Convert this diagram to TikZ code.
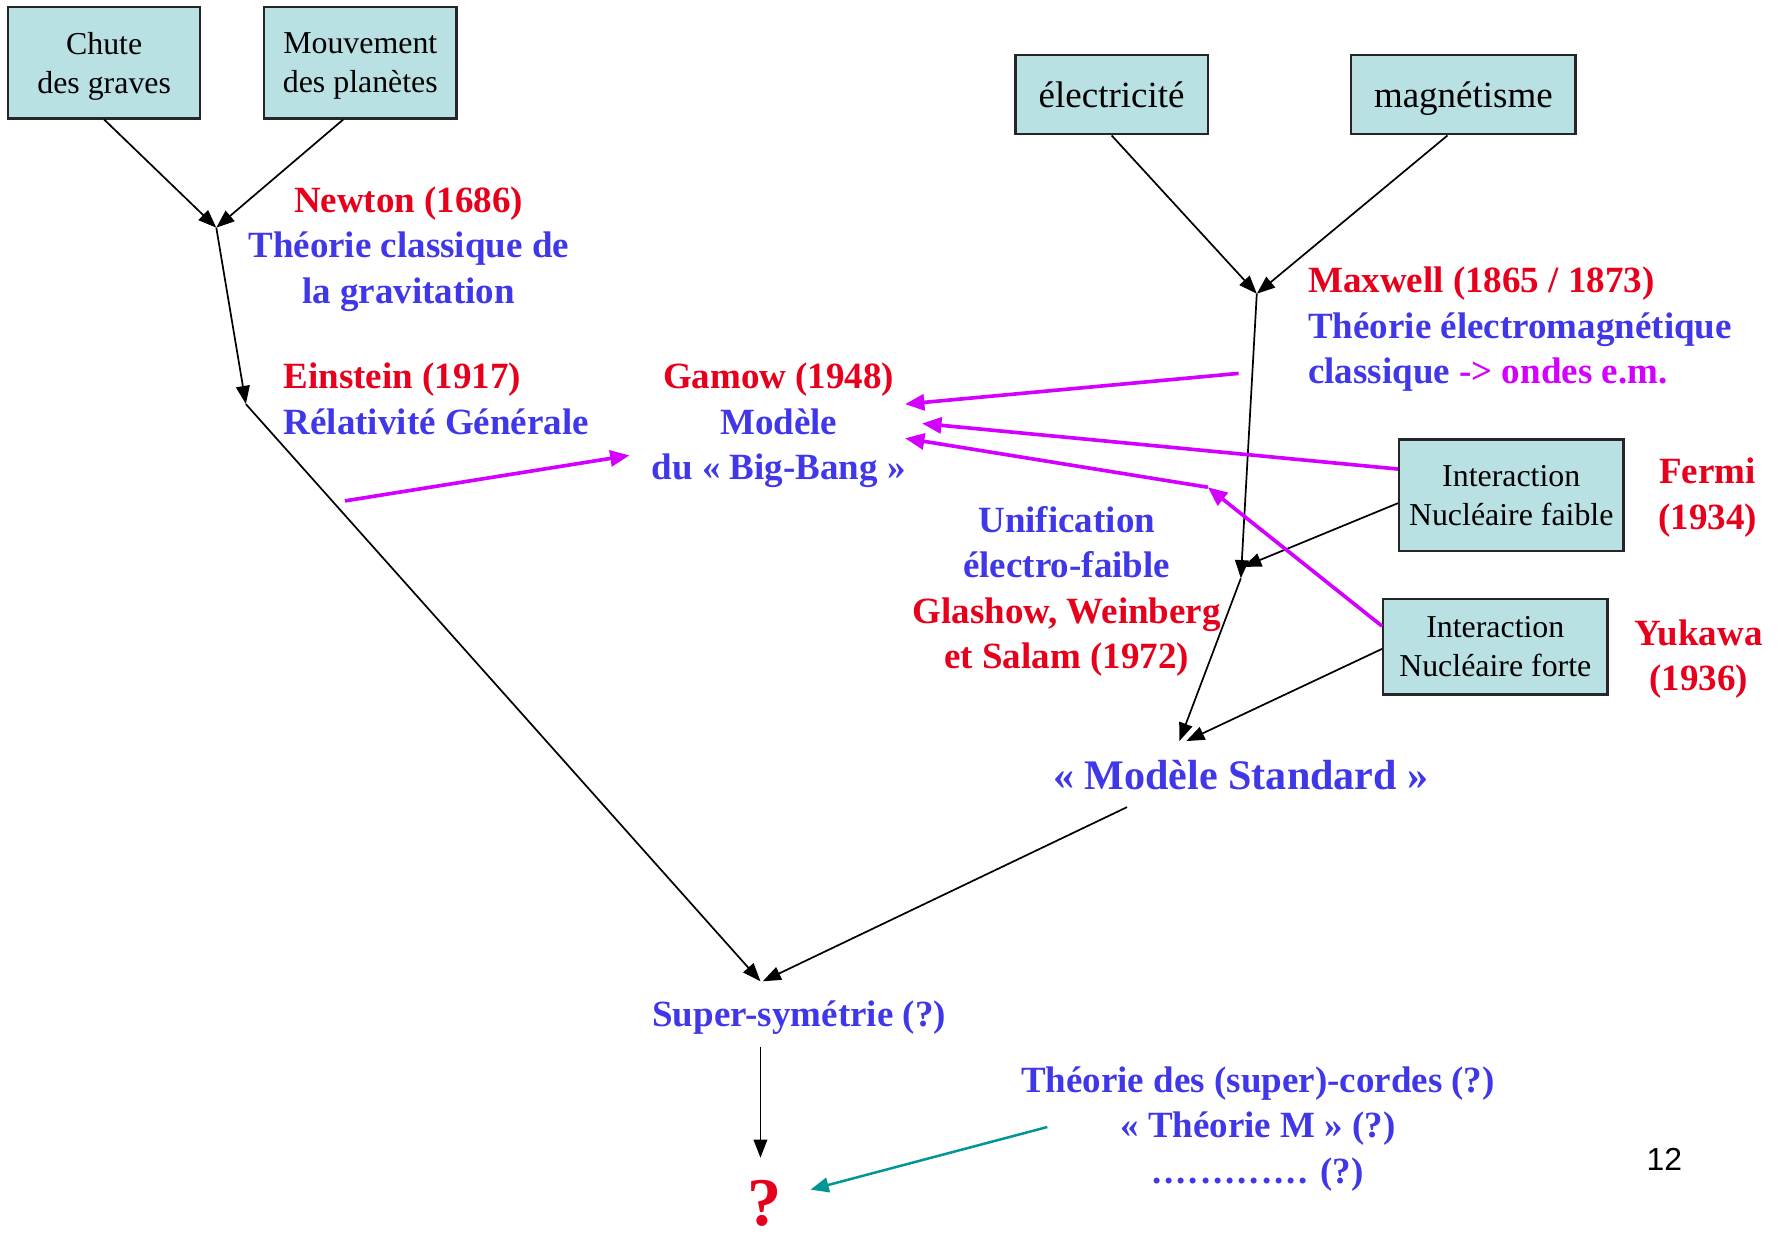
\documentclass[tikz,border=0pt]{standalone}
\usepackage{fontspec}
\setmainfont{Liberation Serif}
\newfontfamily\sansf{Liberation Sans}
\usetikzlibrary{arrows.meta}
\definecolor{boxfill}{RGB}{185,224,226}
\definecolor{tred}{RGB}{230,0,28}
\definecolor{tblue}{RGB}{64,56,232}
\definecolor{tmag}{RGB}{212,0,255}
\definecolor{tteal}{RGB}{0,150,150}
\newcommand\mydotrow{.\kern2.6pt.\kern2.6pt.\kern2.6pt.\kern2.6pt.\kern2.6pt.\kern2.6pt.\kern2.6pt.\kern2.6pt.\kern2.6pt.\kern2.6pt.\kern2.6pt.\kern2.6pt.}
\begin{document}
\begin{tikzpicture}[x=1pt,y=-1pt,
  box/.style={draw=black!85, line width=2pt, fill=boxfill, inner sep=0pt, align=center,
              text depth=0pt, font=\fontsize{28}{34}\selectfont},
  bigbox/.style={box, font=\fontsize{32.5}{40}\selectfont},
  lbl/.style={align=center, font=\bfseries\fontsize{32.5}{40}\selectfont, inner sep=0pt,
              text depth=0pt, text=tblue},
  blk/.style={draw=black, line width=1.5pt, -{Triangle[length=16pt,width=12pt]}},
  mag/.style={draw=tmag, line width=3.2pt, -{Triangle[length=17pt,width=14pt]}},
  teal/.style={draw=tteal, line width=2.2pt, -{Triangle[length=16pt,width=13pt]}}]
\useasboundingbox (0,0) rectangle (1568,1085);

% boxes
\node[box, minimum width=169pt, minimum height=98pt] (chute) at (91.5,55) {Chute\\des graves};
\node[box, minimum width=169pt, minimum height=98pt] (mouv) at (316.5,55) {Mouvement\\des planètes};
\node[bigbox, minimum width=169pt, minimum height=70pt] (elec) at (976.5,83) {électricité};
\node[bigbox, minimum width=197pt, minimum height=70pt] (magn) at (1285.5,83) {magnétisme};
\node[box, minimum width=197pt, minimum height=98pt] (faible) at (1327.5,435) {Interaction\\Nucléaire faible};
\node[box, minimum width=197pt, minimum height=84pt] (forte) at (1313.5,568) {Interaction\\Nucléaire forte};

% labels
\node[lbl] (newton) at (359,215) {\textcolor{tred}{Newton (1686)}\\Théorie classique de\\la gravitation};
\node[lbl, align=left, anchor=west] (einstein) at (249,350) {\textcolor{tred}{Einstein (1917)}\\Rélativité Générale};
\node[lbl] (gamow) at (684,370) {\textcolor{tred}{Gamow (1948)}\\Modèle\\du « Big-Bang »};
\node[lbl, align=left, anchor=west] (maxwell) at (1149,286) {\textcolor{tred}{Maxwell (1865 / 1873)}\\Théorie électromagnétique\\classique \textcolor{tmag}{-> ondes e.m.}};
\node[lbl, text=tred] (fermi) at (1500,433.5) {Fermi\\(1934)};
\node[lbl, text=tred] (yukawa) at (1492,575.5) {Yukawa\\(1936)};
\node[lbl] (unif) at (937,516) {Unification\\électro-faible\\\textcolor{tred}{Glashow, Weinberg}\\\textcolor{tred}{et Salam (1972)}};
\node[lbl, font=\bfseries\fontsize{37}{44}\selectfont] (ms) at (1090,681) {« Modèle Standard »};
\node[lbl] (susy) at (702,890) {Super-symétrie (?)};
\node[lbl] (cordes) at (1105,988) {Théorie des (super)-cordes (?)\\« Théorie M » (?)\\\mydotrow{} (?)};
\node[lbl, text=tred, font=\bfseries\fontsize{60}{70}\selectfont] (q) at (672,1057) {?};
\node[inner sep=0pt, font=\sansf\fontsize{28}{34}\selectfont] (num) at (1462,1018) {12};

% junctions
\coordinate (jN) at (190,200);
\coordinate (jE) at (216,355);
\coordinate (jS) at (668,862);
\coordinate (jM) at (1104,258);
\coordinate (jW) at (1090,508);
\coordinate (jSM) at (1036,651);
\coordinate (msout) at (990,709);
\coordinate (susyout) at (668,920);
\coordinate (qin) at (668,1017);

% black connectors
\draw[blk] (chute.south) -- (jN);
\draw[blk] ([xshift=-15pt]mouv.south) -- (jN);
\draw[blk] (jN) -- (jE);
\draw[blk] (jE) -- (jS);
\draw[blk] (msout) -- ([xshift=2pt]jS);
\draw[blk] (susyout) -- (qin);
\draw[blk] (elec.south) -- (jM);
\draw[blk] ([xshift=-14pt]magn.south) -- (jM);
\draw[blk] (jM) -- (jW);
\draw[blk] ([yshift=-7pt]faible.west) -- ([xshift=2pt,yshift=10pt]jW);
\draw[blk] (jW) -- (jSM);
\draw[blk] ([yshift=-2pt]forte.west) -- ([xshift=6pt]jSM);

% magenta connectors
\coordinate (m1s) at (303,440);
\coordinate (m1e) at (553,400);
\coordinate (m2s) at (1088,328);
\coordinate (m2e) at (795,355);
\coordinate (m3e) at (810,372);
\coordinate (m4m) at (1061,428);
\coordinate (m4e) at (795,385);
\draw[mag] (m1s) -- (m1e);
\draw[mag] (m2s) -- (m2e);
\draw[mag] ([yshift=23pt]faible.west) -- (m3e);
\draw[mag] ([yshift=18pt]forte.west) -- (m4m);
\draw[mag] (m4m) -- (m4e);

% teal connector
\coordinate (ts) at (920,990);
\coordinate (te) at (712,1045);
\draw[teal] (ts) -- (te);
\end{tikzpicture}
\end{document}
